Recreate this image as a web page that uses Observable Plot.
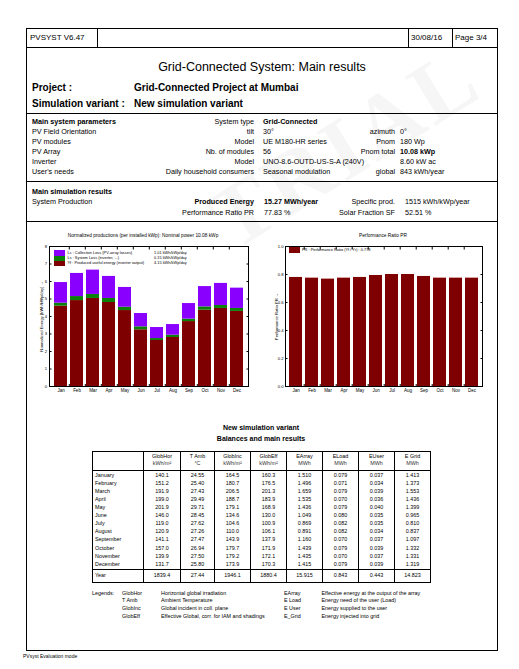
<!DOCTYPE html>
<html><head><meta charset="utf-8">
<script src="https://cdn.jsdelivr.net/npm/d3@7"></script>
<script src="https://cdn.jsdelivr.net/npm/@observablehq/plot@0.6"></script>
<style>
body{margin:0;background:#fff;}
#page{position:relative;width:519px;height:669px;overflow:hidden;font-family:"Liberation Sans",Arial,sans-serif;color:#000;}
.t{position:absolute;white-space:nowrap;line-height:1;}
.hl{position:absolute;height:0;border-top:1px solid #000;}
.vl{position:absolute;width:0;border-left:1px solid #000;}
.sw{position:absolute;}
.chart{position:absolute;}
.chart svg{overflow:visible;}
</style></head><body><div id="page"></div>
<script>
// ---------- data ----------
const months = ["Jan","Feb","Mar","Apr","May","Jun","Jul","Aug","Sep","Oct","Nov","Dec"];
const monthNames = ["January","February","March","April","May","June","July","August","September","October","November","December"];
// Normalized productions (kWh/kWp/day)
const yfValues = [4.59, 4.91, 5.03, 4.80, 4.34, 3.24, 2.63, 2.80, 3.71, 4.36, 4.46, 4.29];
const lsValues = [0.17, 0.23, 0.23, 0.23, 0.19, 0.17, 0.11, 0.13, 0.14, 0.19, 0.17, 0.17];
const lcValues = [1.18, 1.32, 1.39, 1.26, 1.13, 0.76, 0.63, 0.61, 0.89, 1.16, 1.26, 1.16];
const prodComponents = ["Yf", "Ls", "Lc"];
const prodColors = ["#7f0000", "#0a820a", "#8a00ff"];
const prodTicks = [0, 1, 2, 3, 4, 5, 6, 7, 8];
const prodLegend = [
  ["Lc : Collection Loss (PV-array losses)", "1.01 kWh/kWp/day"],
  ["Ls : System Loss (inverter, ...)", "0.15 kWh/kWp/day"],
  ["Yf : Produced useful energy (inverter output)", "4.15 kWh/kWp/day"]
];
// Performance ratio
const prValues = [0.779, 0.774, 0.767, 0.774, 0.779, 0.793, 0.800, 0.800, 0.786, 0.774, 0.774, 0.774];
const prTicks = [0, 0.2, 0.4, 0.6, 0.8, 1.0];
const prColor = "#7f0000";
// Balances table
const tableHeads = [["GlobHor","kWh/m²"],["T Amb","°C"],["GlobInc","kWh/m²"],["GlobEff","kWh/m²"],["EArray","MWh"],["ELoad","MWh"],["EUser","MWh"],["E Grid","MWh"]];
const globHor = [140.1, 151.2, 191.9, 199.0, 201.9, 146.0, 119.0, 120.9, 141.1, 157.0, 139.9, 131.7];
const tAmb    = [24.55, 25.40, 27.43, 29.49, 29.71, 28.45, 27.62, 27.26, 27.47, 26.94, 27.50, 25.80];
const globInc = [164.5, 180.7, 206.5, 188.7, 179.1, 134.6, 104.6, 110.0, 143.9, 179.7, 179.2, 173.9];
const globEff = [160.3, 176.5, 201.3, 183.9, 168.9, 130.0, 100.9, 106.1, 137.9, 171.9, 172.1, 170.3];
const eArray  = [1.510, 1.496, 1.659, 1.535, 1.436, 1.049, 0.869, 0.891, 1.160, 1.439, 1.435, 1.415];
const eLoad   = [0.079, 0.071, 0.079, 0.070, 0.079, 0.080, 0.082, 0.082, 0.070, 0.079, 0.070, 0.079];
const eUser   = [0.037, 0.034, 0.039, 0.036, 0.040, 0.035, 0.035, 0.034, 0.037, 0.039, 0.037, 0.039];
const eGrid   = [1.413, 1.373, 1.553, 1.436, 1.399, 0.965, 0.810, 0.837, 1.097, 1.332, 1.331, 1.319];
const yearRow = ["1839.4", "27.44", "1946.1", "1880.4", "15.915", "0.843", "0.443", "14.823"];
const colDigits = [1, 2, 1, 1, 3, 3, 3, 3];
const legendLeft = [["GlobHor","Horizontal global irradiation"],["T Amb","Ambient Temperature"],["GlobInc","Global incident in coll. plane"],["GlobEff","Effective Global, corr. for IAM and shadings"]];
const legendRight = [["EArray","Effective energy at the output of the array"],["E Load","Energy need of the user (Load)"],["E User","Energy supplied to the user"],["E_Grid","Energy injected into grid"]];

// ---------- helpers ----------
const page = document.getElementById("page");
const FONT = '"Liberation Sans", Arial, sans-serif';
function txt(x, y, s, o = {}) {
  const size = o.size || 7.2;
  const d = document.createElement("div");
  d.className = "t";
  d.textContent = s;
  d.style.fontSize = size + "px";
  d.style.top = (y - size * 0.5) + "px";
  if (o.bold) d.style.fontWeight = "bold";
  if (o.color) d.style.color = o.color;
  if (o.family) d.style.fontFamily = o.family;
  const a = o.anchor || "start";
  if (a === "start") d.style.left = x + "px";
  else if (a === "end") d.style.right = (519 - x) + "px";
  else { d.style.left = x + "px"; d.style.transform = "translateX(-50%)"; }
  page.appendChild(d);
  return d;
}
function hl(x1, x2, y) { const d = document.createElement("div"); d.className = "hl"; d.style.left = x1 + "px"; d.style.width = (x2 - x1) + "px"; d.style.top = y + "px"; page.appendChild(d); }
function vl(x, y1, y2) { const d = document.createElement("div"); d.className = "vl"; d.style.left = x + "px"; d.style.top = y1 + "px"; d.style.height = (y2 - y1) + "px"; page.appendChild(d); }
function sw(x, y, w, h, c) { const d = document.createElement("div"); d.className = "sw"; Object.assign(d.style, {left: x + "px", top: y + "px", width: w + "px", height: h + "px", background: c}); page.appendChild(d); }

// faint watermark
const wm = txt(345, 148, "TRIAL", {size: 88, bold: true, family: '"Liberation Serif", "Times New Roman", serif', color: "rgba(0,0,0,0.035)", anchor: "middle"});
wm.style.transform = "translate(-50%, 0) rotate(-32deg)";
wm.style.letterSpacing = "4px";

// page frame
const frame = document.createElement("div");
Object.assign(frame.style, {position: "absolute", left: "26px", top: "28px", width: "470px", height: "621px", border: "1px solid #000"});
page.appendChild(frame);
hl(26, 497, 47);
vl(97, 28, 47); vl(408, 28, 47); vl(452, 28, 47);
hl(26, 497, 113); hl(26, 497, 181); hl(26, 497, 221);

// header
txt(30, 37.5, "PVSYST V6.47", {size: 8});
txt(411, 37.5, "30/08/16", {size: 8});
txt(455, 37.5, "Page 3/4", {size: 8});
txt(262, 67, "Grid-Connected System: Main results", {size: 12.5, anchor: "middle"});
txt(32, 88, "Project :", {size: 10, bold: true});
txt(134, 88, "Grid-Connected Project at Mumbai", {size: 10, bold: true});
txt(32, 103.5, "Simulation variant :", {size: 10, bold: true});
txt(134, 103.5, "New simulation variant", {size: 10, bold: true});

// parameters
const paramRows = [
  [["Main system parameters", true], ["System type"], ["Grid-Connected", true], [""], [""]],
  [["PV Field Orientation"], ["tilt"], ["30°"], ["azimuth"], ["0°"]],
  [["PV modules"], ["Model"], ["UE M180-HR series"], ["Pnom"], ["180 Wp"]],
  [["PV Array"], ["Nb. of modules"], ["56"], ["Pnom total"], ["10.08 kWp", true]],
  [["Inverter"], ["Model"], ["UNO-8.6-OUTD-US-S-A (240V)"], [""], ["8.60 kW ac"]],
  [["User's needs"], ["Daily household consumers"], ["Seasonal modulation"], ["global"], ["843 kWh/year"]]
];
paramRows.forEach((r, i) => {
  const y = 121.5 + i * 10;
  txt(32, y, r[0][0], {bold: r[0][1]});
  txt(254, y, r[1][0], {anchor: "end"});
  txt(263, y, r[2][0], {bold: r[2][1]});
  txt(395, y, r[3][0], {anchor: "end"});
  txt(400, y, r[4][0], {bold: r[4][1]});
});
txt(32, 191.5, "Main simulation results", {bold: true});
txt(32, 202, "System Production");
txt(254, 202, "Produced Energy", {anchor: "end", bold: true});
txt(264, 202, "15.27 MWh/year", {bold: true});
txt(395, 202, "Specific prod.", {anchor: "end"});
txt(405, 202, "1515 kWh/kWp/year");
txt(254, 212.5, "Performance Ratio PR", {anchor: "end"});
txt(264, 212.5, "77.83 %");
txt(395, 212.5, "Solar Fraction SF", {anchor: "end"});
txt(405, 212.5, "52.51 %");

// ---------- charts ----------
const prodRows = months.flatMap((m, i) => [
  {month: m, comp: "Yf", value: yfValues[i]},
  {month: m, comp: "Ls", value: lsValues[i]},
  {month: m, comp: "Lc", value: lcValues[i]}
]);
const blank = () => "";
function bandStep(width, ml, mr) { return (width - ml - mr) / (12 - 0.2 + 0.2); }

const L = {left: 27, top: 226, width: 243, height: 175, ml: 22, mr: 22, mt: 20, mb: 15};
const leftChart = Plot.plot({
  width: L.width, height: L.height,
  marginLeft: L.ml, marginRight: L.mr, marginTop: L.mt, marginBottom: L.mb,
  style: {fontFamily: FONT, fontSize: "4.5px", background: "none", color: "#000"},
  x: {domain: months, paddingInner: 0.2, paddingOuter: 0.1},
  y: {domain: [0, 8]},
  color: {domain: prodComponents, range: prodColors},
  marks: [
    Plot.barY(prodRows, {x: "month", y: "value", fill: "comp", order: prodComponents}),
    Plot.frame({stroke: "#000", strokeWidth: 1}),
    Plot.axisX({tickSize: 0, tickPadding: 2.5, label: null, fontSize: 4.5}),
    Plot.axisY({ticks: prodTicks, tickSize: 0, tickPadding: 2.5, fontSize: 4.2, label: "Normalized Energy [kWh/kWp/day]", labelAnchor: "center", labelOffset: 9}),
    Plot.axisY({ticks: prodTicks, anchor: "left", tickSize: -2.5, tickFormat: blank, label: null}),
    Plot.axisY({ticks: prodTicks, anchor: "right", tickSize: -2.5, tickFormat: blank, label: null}),
    Plot.axisX({ticks: months.slice(0, 11), anchor: "top", tickSize: -2.5, dx: bandStep(L.width, L.ml, L.mr) / 2, tickFormat: blank, label: null}),
    Plot.axisX({ticks: months.slice(0, 11), anchor: "bottom", tickSize: -2, dx: bandStep(L.width, L.ml, L.mr) / 2, tickFormat: blank, label: null})
  ]
});
const ld = document.createElement("div"); ld.className = "chart";
ld.style.left = L.left + "px"; ld.style.top = L.top + "px";
ld.appendChild(leftChart); page.appendChild(ld);

const R = {left: 272, top: 226, width: 225, height: 175, ml: 13, mr: 15, mt: 20, mb: 15};
const rightChart = Plot.plot({
  width: R.width, height: R.height,
  marginLeft: R.ml, marginRight: R.mr, marginTop: R.mt, marginBottom: R.mb,
  style: {fontFamily: FONT, fontSize: "4.5px", background: "none", color: "#000"},
  x: {domain: months, paddingInner: 0.2, paddingOuter: 0.1},
  y: {domain: [0, 1]},
  marks: [
    Plot.barY(months.map((m, i) => ({month: m, pr: prValues[i]})), {x: "month", y: "pr", fill: prColor}),
    Plot.frame({stroke: "#000", strokeWidth: 1}),
    Plot.axisX({tickSize: 0, tickPadding: 2.5, label: null, fontSize: 4.5}),
    Plot.axisY({ticks: prTicks, tickSize: 0, tickPadding: 2, fontSize: 4.2, tickFormat: d3.format(".1f"), label: "Performance Ratio PR", labelAnchor: "center", labelOffset: 10}),
    Plot.axisY({ticks: prTicks, anchor: "left", tickSize: -2.5, tickFormat: blank, label: null}),
    Plot.axisY({ticks: prTicks, anchor: "right", tickSize: -2.5, tickFormat: blank, label: null}),
    Plot.axisX({ticks: months.slice(0, 11), anchor: "top", tickSize: -2.5, dx: bandStep(R.width, R.ml, R.mr) / 2, tickFormat: blank, label: null}),
    Plot.axisX({ticks: months.slice(0, 11), anchor: "bottom", tickSize: -2, dx: bandStep(R.width, R.ml, R.mr) / 2, tickFormat: blank, label: null})
  ]
});
const rd = document.createElement("div"); rd.className = "chart";
rd.style.left = R.left + "px"; rd.style.top = R.top + "px";
rd.appendChild(rightChart); page.appendChild(rd);

// chart titles & legends
txt(143, 236.5, "Normalized productions (per installed kWp):  Nominal power 10.08 kWp", {size: 4.8, anchor: "middle"});
txt(383, 236.5, "Performance Ratio PR", {size: 4.8, anchor: "middle"});
sw(54, 250, 11, 6, prodColors[2]);
sw(54, 256, 11, 4.5, prodColors[1]);
sw(54, 260.5, 11, 5.5, prodColors[0]);
prodLegend.forEach((r, i) => {
  const y = [253, 258.3, 263.2][i];
  txt(67.5, y, r[0], {size: 3.9});
  txt(154, y, r[1], {size: 3.9});
});
sw(289, 247, 11, 6, prColor);
txt(302, 250, "PR : Performance Ratio (Yf / Yr) :  0.778", {size: 3.9});

// ---------- balances table ----------
txt(261, 427, "New simulation variant", {size: 7, bold: true, anchor: "middle"});
txt(261, 438, "Balances and main results", {size: 7, bold: true, anchor: "middle"});
const cols = [92, 143, 180, 214, 250, 286, 322, 358, 394, 430];
const tTop = 451, tHeadBottom = 470.3, tYearLine = 569.3, tBottom = 582;
hl(cols[0], cols[9] + 1, tTop);
hl(cols[0], cols[9] + 1, tHeadBottom);
hl(cols[0], cols[9] + 1, tYearLine);
hl(cols[0], cols[9] + 1, tBottom);
cols.forEach(x => vl(x, tTop, tBottom + 1));
const TS = 5.4;
tableHeads.forEach((h, j) => {
  const cx = (cols[j + 1] + cols[j + 2]) / 2 + 0.5;
  txt(cx, 456.8, h[0], {size: TS, anchor: "middle"});
  txt(cx, 463.5, h[1], {size: TS, anchor: "middle", color: "#333"});
});
const tableCols = [globHor, tAmb, globInc, globEff, eArray, eLoad, eUser, eGrid];
monthNames.forEach((name, i) => {
  const y = 475.5 + i * 8.08;
  txt(cols[0] + 3, y, name, {size: TS});
  tableCols.forEach((col, j) => {
    const cx = (cols[j + 1] + cols[j + 2]) / 2 + 0.5;
    txt(cx, y, col[i].toFixed(colDigits[j]), {size: TS, anchor: "middle"});
  });
});
txt(cols[0] + 3, 576, "Year", {size: TS});
yearRow.forEach((v, j) => {
  const cx = (cols[j + 1] + cols[j + 2]) / 2 + 0.5;
  txt(cx, 576, v, {size: TS, anchor: "middle"});
});

// legends
txt(92, 593.3, "Legends:", {size: TS});
legendLeft.forEach((r, i) => {
  const y = 593.3 + i * 7.8;
  txt(122, y, r[0], {size: TS});
  txt(161, y, r[1], {size: TS});
});
legendRight.forEach((r, i) => {
  const y = 593.3 + i * 7.8;
  txt(284, y, r[0], {size: TS});
  txt(321.5, y, r[1], {size: TS});
});
txt(23, 656, "PVsyst Evaluation mode", {size: 5});
</script>
</body></html>
